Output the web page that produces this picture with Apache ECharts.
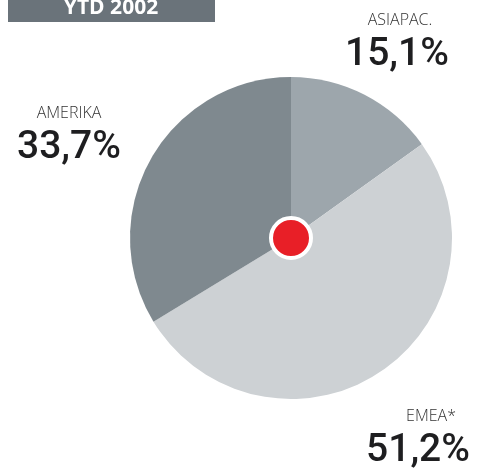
<!DOCTYPE html>
<html>
<head>
<meta charset="utf-8">
<script src="https://cdn.jsdelivr.net/npm/echarts@6/dist/echarts.min.js"></script>
<style>
  html, body { margin: 0; padding: 0; background: #fff; }
  #chart { width: 479px; height: 468px; }
</style>
</head>
<body>
<div id="chart"></div>
<script>
var title = 'YTD 2002';
var regions = ['ASIAPAC.', 'EMEA*', 'AMERIKA'];
var shares = [15.1, 51.2, 33.7];
var colors = ['#9da6ac', '#cdd1d4', '#7f898f'];

// label anchors: name line, then value line below
var labelPos = [
  { x: 400, y: 20, vx: 397, align: 'center' },
  { x: 456, y: 416, vx: 470, align: 'right' },
  { x: 69, y: 113, vx: 69, align: 'center' }
];

function fmt(v) {
  return v.toFixed(1).replace('.', ',') + '%';
}

var pieData = regions.map(function (r, i) {
  return { name: r, value: shares[i], itemStyle: { color: colors[i] } };
});

var labels = [];
regions.forEach(function (r, i) {
  var p = labelPos[i];
  labels.push({
    type: 'text', x: p.x, y: p.y,
    style: {
      text: r, fill: '#333', font: '300 16px "Open Sans", sans-serif',
      textAlign: p.align, textVerticalAlign: 'middle'
    }
  });
  labels.push({
    type: 'text', x: p.vx, y: p.y + 35,
    style: {
      text: fmt(shares[i]), fill: '#1e1e20', font: '500 39px Roboto, sans-serif',
      textAlign: p.align, textVerticalAlign: 'middle'
    }
  });
});

var chart = echarts.init(document.getElementById('chart'));
chart.setOption({
  backgroundColor: '#fff',
  animation: false,
  graphic: [
    { type: 'rect', shape: { x: 8, y: 0, width: 207, height: 22 }, style: { fill: '#6a737a' } },
    {
      type: 'text', x: 111, y: 8,
      style: {
        text: title, fill: '#fff', font: 'bold 21px "Open Sans", sans-serif',
        textAlign: 'center', textVerticalAlign: 'middle'
      }
    }
  ].concat(labels),
  series: [
    {
      type: 'pie',
      center: [291, 238],
      radius: 161,
      startAngle: 90,
      clockwise: true,
      label: { show: false },
      labelLine: { show: false },
      emphasis: { disabled: true },
      data: pieData
    },
    {
      type: 'pie',
      center: [291, 238],
      radius: 20,
      label: { show: false },
      emphasis: { disabled: true },
      itemStyle: { color: '#e81f27', borderColor: '#fff', borderWidth: 4 },
      data: [{ name: 'dot', value: 1 }]
    }
  ]
});
</script>
</body>
</html>
